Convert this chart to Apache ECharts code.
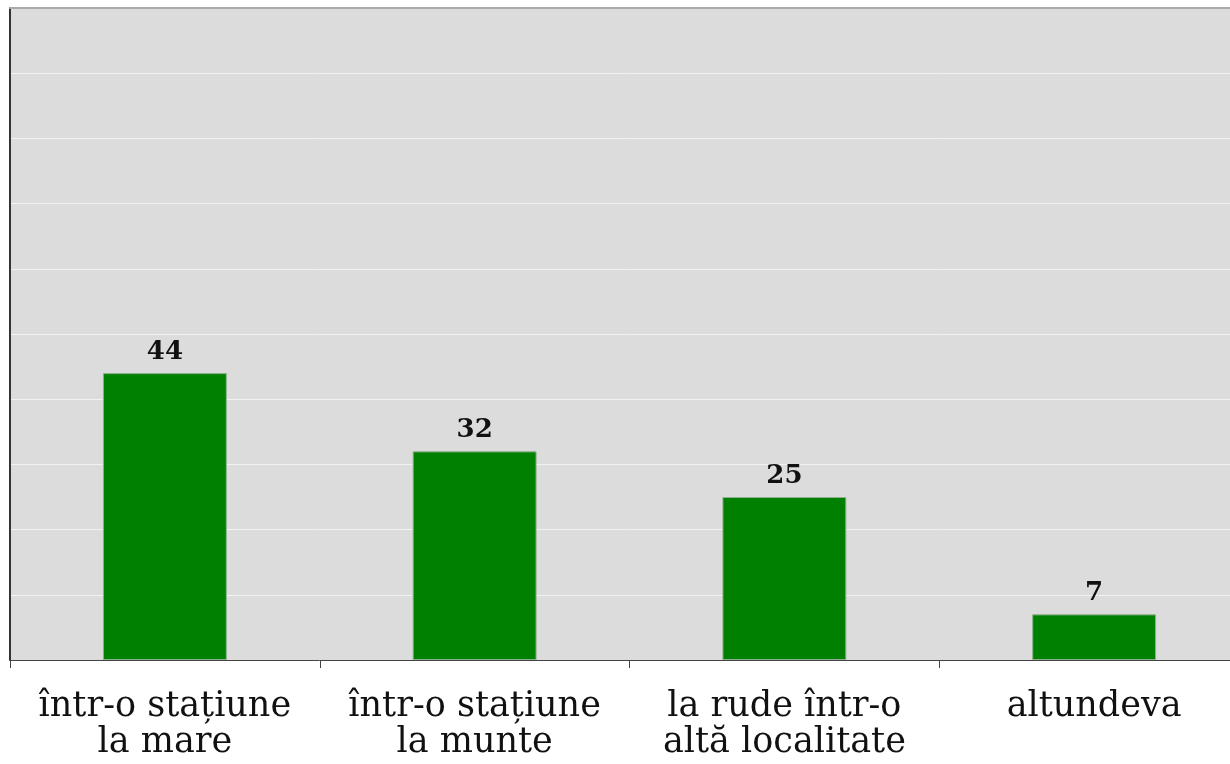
<!DOCTYPE html>
<html>
<head>
<meta charset="utf-8">
<script src="https://cdn.jsdelivr.net/npm/echarts@6/dist/echarts.min.js"></script>
<style>
html,body{margin:0;padding:0;background:#fff;overflow:hidden;width:1230px;height:764px;}
#c{width:1250px;height:764px;}
</style>
</head>
<body>
<div id="c"></div>
<script>
const categories = ["într-o stațiune\nla mare", "într-o stațiune\nla munte", "la rude într-o\naltă localitate", "altundeva"];
const values = [44, 32, 25, 7];
const yMin = 0, yMax = 100, yStep = 10;

const chart = echarts.init(document.getElementById('c'), null, {renderer: 'canvas', width: 1250, height: 764});
const FONT = '"DejaVu Serif", "Liberation Serif", serif';
chart.setOption({
  animation: false,
  grid: {left: 10, right: 1, top: 8, bottom: 104, show: true, backgroundColor: '#dcdcdc', borderWidth: 0, containLabel: false},
  xAxis: [{
    type: 'category',
    data: categories,
    boundaryGap: true,
    axisLine: {show: true, lineStyle: {color: '#444', width: 1}},
    axisTick: {show: true, length: 8, lineStyle: {color: '#444'}, alignWithLabel: false},
    axisLabel: {fontFamily: FONT, fontSize: 35, color: '#111', lineHeight: 36, margin: 29, interval: 0}
  }, {
    type: 'category',
    position: 'top',
    data: categories,
    axisLine: {show: true, lineStyle: {color: '#aaa', width: 2}},
    axisTick: {show: false},
    axisLabel: {show: false}
  }],
  yAxis: {
    type: 'value', min: yMin, max: yMax, interval: yStep,
    axisLine: {show: true, lineStyle: {color: '#333', width: 2}},
    axisTick: {show: false},
    axisLabel: {show: false},
    splitLine: {show: true, lineStyle: {color: '#f2f2f2', width: 1}}
  },
  series: [{
    type: 'bar',
    data: values,
    barWidth: '40%',
    itemStyle: {color: '#008000', borderColor: '#8fb08f', borderWidth: 1},
    label: {show: true, position: 'top', distance: 8, fontFamily: FONT, fontWeight: 'bold', fontSize: 26, color: '#111'}
  }]
});
</script>
</body>
</html>
